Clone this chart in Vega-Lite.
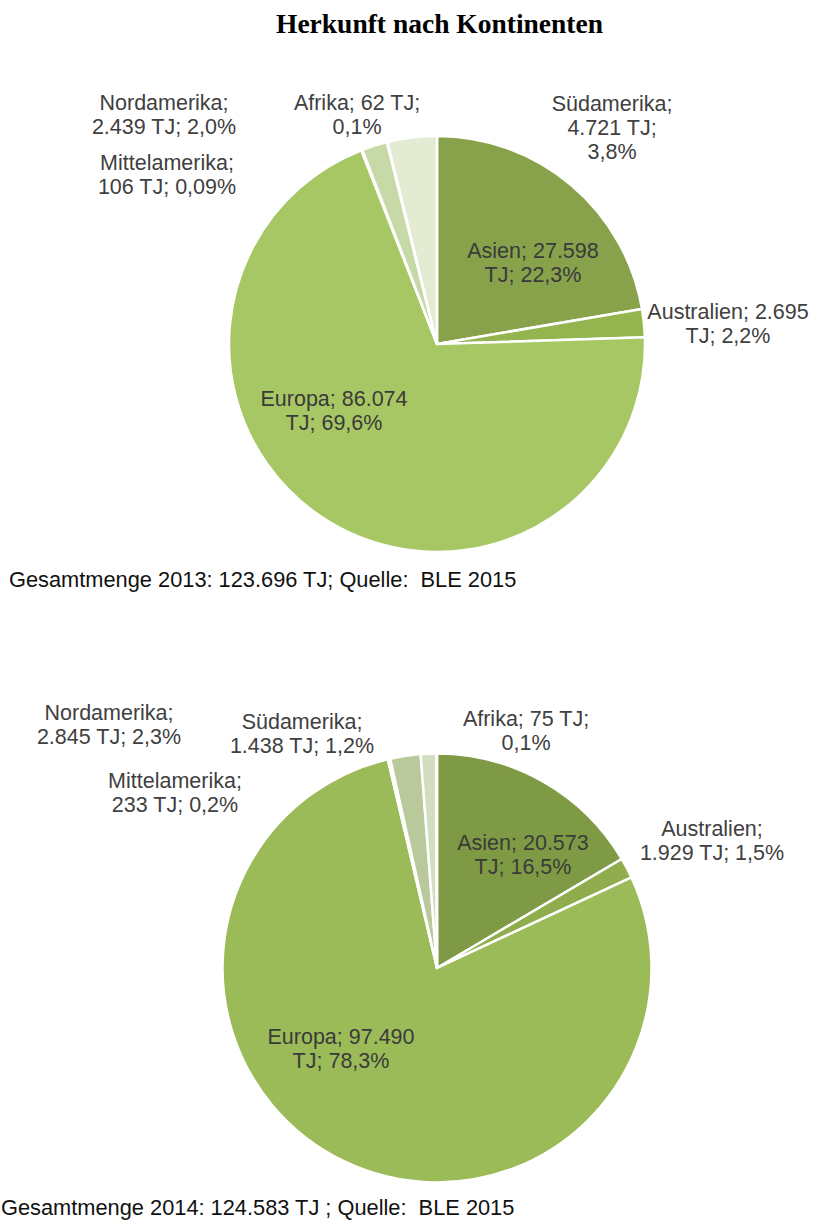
{
  "$schema": "https://vega.github.io/schema/vega-lite/v6.json",
  "autosize": {"type": "pad"},
  "padding": {"top": 10, "left": 1, "right": 0, "bottom": 0},
  "background": "#ffffff",
  "title": {"text": "Herkunft nach Kontinenten", "font": "Liberation Serif", "fontSize": 27.5, "fontWeight": "bold", "color": "#000000", "anchor": "middle", "offset": 55, "dx": 32},
  "datasets": {
    "d2013": [
      {"region": "Asien", "idx": 1, "value": 27598, "label": "Asien; 27.598\nTJ; 22,3%"},
      {"region": "Australien", "idx": 2, "value": 2695, "label": "Australien; 2.695\nTJ; 2,2%"},
      {"region": "Europa", "idx": 3, "value": 86074, "label": "Europa; 86.074\nTJ; 69,6%"},
      {"region": "Mittelamerika", "idx": 4, "value": 106, "label": "Mittelamerika;\n106 TJ; 0,09%"},
      {"region": "Nordamerika", "idx": 5, "value": 2439, "label": "Nordamerika;\n2.439 TJ; 2,0%"},
      {"region": "Afrika", "idx": 6, "value": 62, "label": "Afrika; 62 TJ;\n0,1%"},
      {"region": "Südamerika", "idx": 7, "value": 4721, "label": "Südamerika;\n4.721 TJ;\n3,8%"}
    ],
    "d2014": [
      {"region": "Asien", "idx": 1, "value": 20573, "label": "Asien; 20.573\nTJ; 16,5%"},
      {"region": "Australien", "idx": 2, "value": 1929, "label": "Australien;\n1.929 TJ; 1,5%"},
      {"region": "Europa", "idx": 3, "value": 97490, "label": "Europa; 97.490\nTJ; 78,3%"},
      {"region": "Mittelamerika", "idx": 4, "value": 233, "label": "Mittelamerika;\n233 TJ; 0,2%"},
      {"region": "Nordamerika", "idx": 5, "value": 2845, "label": "Nordamerika;\n2.845 TJ; 2,3%"},
      {"region": "Südamerika", "idx": 6, "value": 1438, "label": "Südamerika;\n1.438 TJ; 1,2%"},
      {"region": "Afrika", "idx": 7, "value": 75, "label": "Afrika; 75 TJ;\n0,1%"}
    ]
  },
  "spacing": 111,
  "resolve": {"scale": {"color": "independent", "theta": "independent"}},
  "vconcat": [
    {
      "width": 754,
      "height": 420,
      "data": {"name": "d2013"},
      "title": {"text": "Gesamtmenge 2013: 123.696 TJ; Quelle:\u00a0 BLE 2015", "orient": "bottom", "anchor": "start", "frame": "group", "dx": -51, "offset": 13, "font": "Liberation Sans", "fontSize": 21.8, "fontWeight": "normal", "color": "#111111"},
      "transform": [{"stack": "value", "groupby": [], "sort": [{"field": "idx", "order": "ascending"}], "offset": "normalize", "as": ["t0", "t1"]}],
      "layer": [
        {
          "mark": {"type": "arc", "radius": 208, "stroke": "#ffffff", "strokeWidth": 2.5},
          "encoding": {
            "theta": {"field": "t0", "type": "quantitative", "scale": {"domain": [0, 1]}},
            "theta2": {"field": "t1"},
            "color": {"field": "region", "type": "nominal", "legend": null,
              "scale": {"domain": ["Asien", "Australien", "Europa", "Mittelamerika", "Nordamerika", "Afrika", "Südamerika"],
                        "range": ["#87a24b", "#94b450", "#a7c764", "#b8d084", "#c6d9a6", "#d5e3be", "#e3ecd3"]}}
          }
        },
        {"transform": [{"filter": "datum.region === 'Asien'"}], "mark": {"type": "text", "dx": 96, "dy": -92, "align": "center", "baseline": "middle", "lineBreak": "\n", "lineHeight": 24, "fontSize": 21.5, "font": "Liberation Sans", "color": "#3a3a3a"}, "encoding": {"text": {"field": "label"}}},
        {"transform": [{"filter": "datum.region === 'Australien'"}], "mark": {"type": "text", "dx": 291, "dy": -31, "align": "center", "baseline": "middle", "lineBreak": "\n", "lineHeight": 24, "fontSize": 21.5, "font": "Liberation Sans", "color": "#404040"}, "encoding": {"text": {"field": "label"}}},
        {"transform": [{"filter": "datum.region === 'Europa'"}], "mark": {"type": "text", "dx": -103, "dy": 56, "align": "center", "baseline": "middle", "lineBreak": "\n", "lineHeight": 24, "fontSize": 21.5, "font": "Liberation Sans", "color": "#3a3a3a"}, "encoding": {"text": {"field": "label"}}},
        {"transform": [{"filter": "datum.region === 'Mittelamerika'"}], "mark": {"type": "text", "dx": -270, "dy": -180, "align": "center", "baseline": "middle", "lineBreak": "\n", "lineHeight": 24, "fontSize": 21.5, "font": "Liberation Sans", "color": "#404040"}, "encoding": {"text": {"field": "label"}}},
        {"transform": [{"filter": "datum.region === 'Nordamerika'"}], "mark": {"type": "text", "dx": -273, "dy": -240, "align": "center", "baseline": "middle", "lineBreak": "\n", "lineHeight": 24, "fontSize": 21.5, "font": "Liberation Sans", "color": "#404040"}, "encoding": {"text": {"field": "label"}}},
        {"transform": [{"filter": "datum.region === 'Afrika'"}], "mark": {"type": "text", "dx": -80, "dy": -240, "align": "center", "baseline": "middle", "lineBreak": "\n", "lineHeight": 24, "fontSize": 21.5, "font": "Liberation Sans", "color": "#404040"}, "encoding": {"text": {"field": "label"}}},
        {"transform": [{"filter": "datum.region === 'Südamerika'"}], "mark": {"type": "text", "dx": 175, "dy": -239, "align": "center", "baseline": "middle", "lineBreak": "\n", "lineHeight": 24, "fontSize": 21.5, "font": "Liberation Sans", "color": "#404040"}, "encoding": {"text": {"field": "label"}}}
      ]
    },
    {
      "width": 754,
      "height": 436,
      "data": {"name": "d2014"},
      "title": {"text": "Gesamtmenge 2014: 124.583 TJ ; Quelle:\u00a0 BLE 2015", "orient": "bottom", "anchor": "start", "frame": "group", "dx": -59, "offset": 10, "font": "Liberation Sans", "fontSize": 21.8, "fontWeight": "normal", "color": "#111111"},
      "transform": [{"stack": "value", "groupby": [], "sort": [{"field": "idx", "order": "ascending"}], "offset": "normalize", "as": ["t0", "t1"]}],
      "layer": [
        {
          "mark": {"type": "arc", "radius": 214.5, "stroke": "#ffffff", "strokeWidth": 2.5},
          "encoding": {
            "theta": {"field": "t0", "type": "quantitative", "scale": {"domain": [0, 1]}},
            "theta2": {"field": "t1"},
            "color": {"field": "region", "type": "nominal", "legend": null,
              "scale": {"domain": ["Asien", "Australien", "Europa", "Mittelamerika", "Nordamerika", "Südamerika", "Afrika"],
                        "range": ["#7f9a45", "#8fad4d", "#9bbb59", "#a9c473", "#b9c99c", "#d3dec0", "#e0e8d2"]}}
          }
        },
        {"transform": [{"filter": "datum.region === 'Asien'"}], "mark": {"type": "text", "dx": 86, "dy": -124, "align": "center", "baseline": "middle", "lineBreak": "\n", "lineHeight": 24, "fontSize": 21.5, "font": "Liberation Sans", "color": "#3a3a3a"}, "encoding": {"text": {"field": "label"}}},
        {"transform": [{"filter": "datum.region === 'Australien'"}], "mark": {"type": "text", "dx": 275, "dy": -138, "align": "center", "baseline": "middle", "lineBreak": "\n", "lineHeight": 24, "fontSize": 21.5, "font": "Liberation Sans", "color": "#404040"}, "encoding": {"text": {"field": "label"}}},
        {"transform": [{"filter": "datum.region === 'Europa'"}], "mark": {"type": "text", "dx": -96, "dy": 70, "align": "center", "baseline": "middle", "lineBreak": "\n", "lineHeight": 24, "fontSize": 21.5, "font": "Liberation Sans", "color": "#3a3a3a"}, "encoding": {"text": {"field": "label"}}},
        {"transform": [{"filter": "datum.region === 'Mittelamerika'"}], "mark": {"type": "text", "dx": -262, "dy": -186, "align": "center", "baseline": "middle", "lineBreak": "\n", "lineHeight": 24, "fontSize": 21.5, "font": "Liberation Sans", "color": "#404040"}, "encoding": {"text": {"field": "label"}}},
        {"transform": [{"filter": "datum.region === 'Nordamerika'"}], "mark": {"type": "text", "dx": -328, "dy": -254, "align": "center", "baseline": "middle", "lineBreak": "\n", "lineHeight": 24, "fontSize": 21.5, "font": "Liberation Sans", "color": "#404040"}, "encoding": {"text": {"field": "label"}}},
        {"transform": [{"filter": "datum.region === 'Südamerika'"}], "mark": {"type": "text", "dx": -135, "dy": -245, "align": "center", "baseline": "middle", "lineBreak": "\n", "lineHeight": 24, "fontSize": 21.5, "font": "Liberation Sans", "color": "#404040"}, "encoding": {"text": {"field": "label"}}},
        {"transform": [{"filter": "datum.region === 'Afrika'"}], "mark": {"type": "text", "dx": 89, "dy": -248, "align": "center", "baseline": "middle", "lineBreak": "\n", "lineHeight": 24, "fontSize": 21.5, "font": "Liberation Sans", "color": "#404040"}, "encoding": {"text": {"field": "label"}}}
      ]
    }
  ],
  "config": {"view": {"stroke": null}}
}
